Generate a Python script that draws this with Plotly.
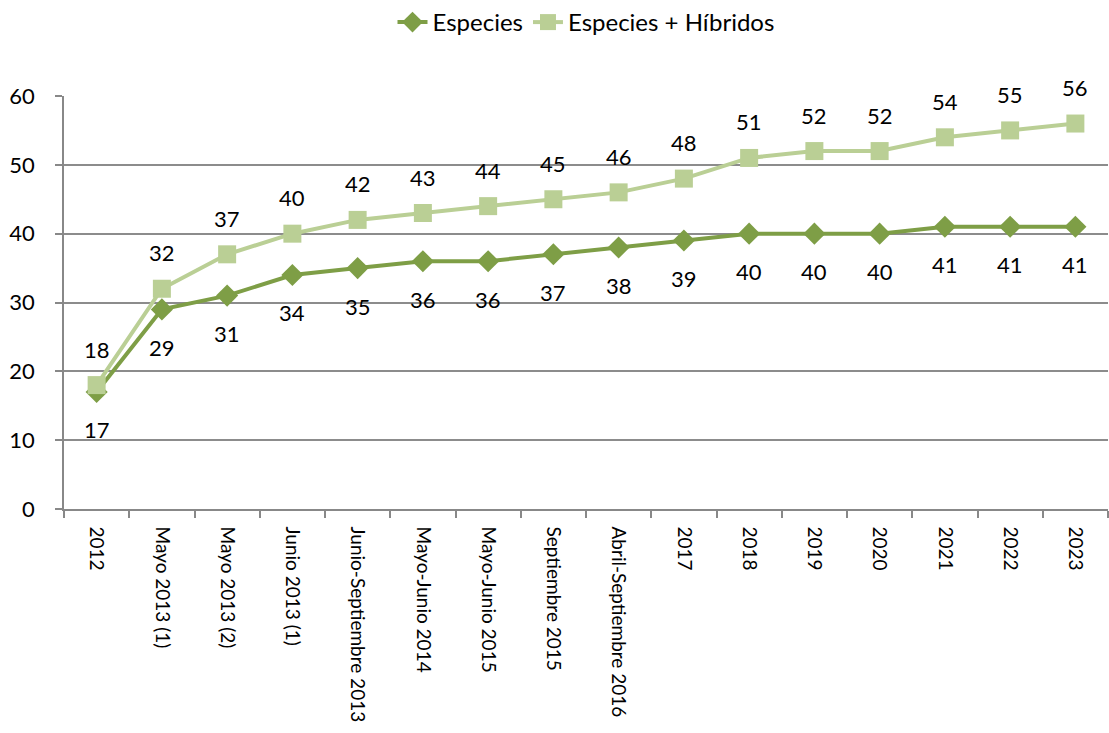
import plotly.graph_objects as go

categories = ["2012", "Mayo 2013 (1)", "Mayo 2013 (2)", "Junio 2013 (1)",
              "Junio-Septiembre 2013", "Mayo-Junio 2014", "Mayo-Junio 2015",
              "Septiembre 2015", "Abril-Septiembre 2016", "2017", "2018",
              "2019", "2020", "2021", "2022", "2023"]
especies = [17, 29, 31, 34, 35, 36, 36, 37, 38, 39, 40, 40, 40, 41, 41, 41]
especies_hibridos = [18, 32, 37, 40, 42, 43, 44, 45, 46, 48, 51, 52, 52, 54, 55, 56]

dark_green = "#7E9E46"
light_green = "#BACF95"
font_family = "Lato, 'Open Sans', sans-serif"

fig = go.Figure()
fig.add_trace(go.Scatter(
    x=categories, y=especies, name="Especies", mode="lines+markers",
    line=dict(color=dark_green, width=4),
    marker=dict(symbol="diamond", size=17, color=dark_green),
))
fig.add_trace(go.Scatter(
    x=categories, y=especies_hibridos, name="Especies + Híbridos", mode="lines+markers",
    line=dict(color=light_green, width=4),
    marker=dict(symbol="square", size=18, color=light_green),
))

# value labels: Especies below, Especies + Híbridos above
# (positioned by category index, since labels like "2012" would be read as numbers)
for i, v in enumerate(especies):
    fig.add_annotation(x=i, y=v, text=str(v), showarrow=False, yshift=-38,
                       font=dict(size=22, color="#000000", family=font_family))
for i, v in enumerate(especies_hibridos):
    fig.add_annotation(x=i, y=v, text=str(v), showarrow=False, yshift=36,
                       font=dict(size=22, color="#000000", family=font_family))

fig.update_layout(
    width=1109, height=733,
    margin=dict(l=64, r=1, t=96, b=224),
    paper_bgcolor="white", plot_bgcolor="white",
    font=dict(family=font_family, color="#000000"),
    showlegend=True,
    legend=dict(orientation="h", x=0.5, xanchor="center", y=1.0, yanchor="top",
                yref="container", font=dict(size=24), tracegroupgap=0),
)
fig.update_xaxes(
    type="category", tickangle=90, tickson="boundaries",
    ticks="outside", ticklen=7, tickcolor="#888888", tickwidth=1.5,
    showline=True, linecolor="#888888", linewidth=1.5,
    showgrid=False, tickfont=dict(size=19, family=font_family),
    ticklabelstandoff=12,
    range=[-0.5, 15.5],
)
fig.update_yaxes(
    range=[0, 60], dtick=10, ticks="outside", ticklen=7,
    tickcolor="#888888", tickwidth=1.5,
    showline=True, linecolor="#888888", linewidth=1.5,
    showgrid=True, gridcolor="#8C8C8C", gridwidth=1.5,
    zeroline=False, tickfont=dict(size=22, family=font_family),
    ticklabelstandoff=16,
)

fig.write_html("out.html")
